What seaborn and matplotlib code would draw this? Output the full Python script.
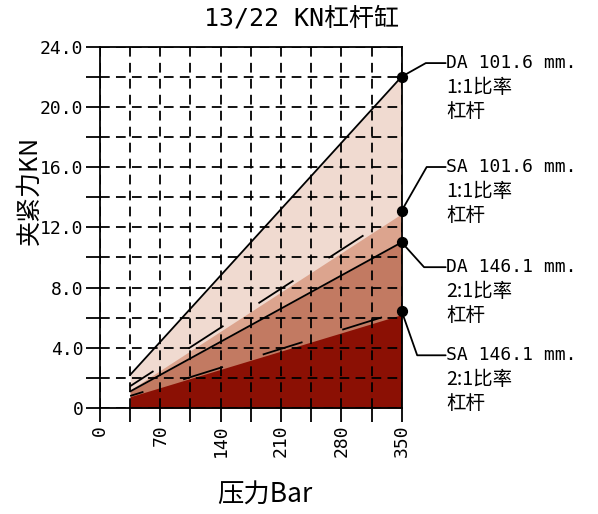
import numpy as np
import pandas as pd
import matplotlib
matplotlib.use("Agg")
import matplotlib.pyplot as plt
import seaborn as sns
from matplotlib.ticker import MultipleLocator, FixedLocator, FixedFormatter

# ── Data ───────────────────────────────────────────────────────────────────────
pressure = [35, 350]                 # Bar
da_101 = [2.2, 22.0]                 # kN
sa_101 = [1.45, 13.1]
da_146 = [1.1, 11.0]
sa_146 = [0.8, 6.43]
# shaded bands sit a little under the SA lines
band_sa_101 = [1.2, 12.9]
band_sa_146 = [0.75, 6.2]

series_names = ["DA 101.6 mm.", "SA 101.6 mm.", "DA 146.1 mm.", "SA 146.1 mm."]
ratio_labels = ["1:1比率", "1:1比率", "2:1比率", "2:1比率"]
x_ticks = [0, 70, 140, 210, 280, 350]
y_ticks = [0, 4, 8, 12, 16, 20, 24]
y_tick_labels = ["0", "4.0", "8.0", "12.0", "16.0", "20.0", "24.0"]

# ── Style / layout ─────────────────────────────────────────────────────────────
BAND_COLORS = ["#F0DAD0", "#DCA48E", "#C27A62", "#8B1004"]
LABEL_Y = [22.9, 16.0, 9.35, 3.5]
ELBOW_X = [378, 379, 376, 368]
TEXT_X = 402
LW = 1.3

sns.set_style("ticks")
plt.rcParams["font.family"] = ["DejaVu Sans Mono", "Noto Sans CJK SC"]
plt.rcParams["lines.scale_dashes"] = False
plt.rcParams["text.color"] = "black"
plt.rcParams["xtick.color"] = "black"
plt.rcParams["ytick.color"] = "black"
plt.rcParams["xtick.labelcolor"] = "black"
plt.rcParams["ytick.labelcolor"] = "black"

fig = plt.figure(figsize=(5.98, 5.14), dpi=100)
ax = fig.add_axes([0.1672, 0.2062, 0.5045, 0.7033])

# shaded bands, lightest first
for top, col in zip([da_101, band_sa_101, da_146, band_sa_146], BAND_COLORS):
    ax.fill_between(pressure, 0, top, color=col, linewidth=0, zorder=1)

# force lines
sns.lineplot(x=pressure, y=da_101, ax=ax, color="black", linewidth=LW, zorder=3)
sns.lineplot(x=pressure, y=sa_101, ax=ax, color="black", linewidth=LW,
             linestyle=(10, (30, 30)), zorder=3)
sns.lineplot(x=pressure, y=da_146, ax=ax, color="black", linewidth=LW, zorder=3)
sns.lineplot(x=pressure, y=sa_146, ax=ax, color="black", linewidth=LW,
             linestyle=(20, (30, 30)), zorder=3)

# end markers + leader lines + labels
ends = [da_101[-1], sa_101[-1], da_146[-1], sa_146[-1]]
x_end = pressure[-1]
ax.scatter([x_end] * len(ends), ends, s=50, color="black", zorder=6, clip_on=False)
for name, ratio, y_end, y_lab, ex in zip(series_names, ratio_labels, ends, LABEL_Y, ELBOW_X):
    ax.plot([x_end, ex, TEXT_X - 1], [y_end, y_lab, y_lab], color="black",
            linewidth=LW, clip_on=False, zorder=5)
    ax.text(TEXT_X, y_lab, name, ha="left", va="center", fontsize=13)
    ax.text(TEXT_X, y_lab - 1.6, ratio, ha="left", va="center", fontsize=14,
            family=["Noto Sans CJK SC"])
    ax.text(TEXT_X, y_lab - 3.2, "杠杆", ha="left", va="center", fontsize=14,
            family=["Noto Sans CJK SC"])

# axes, ticks, dashed grid
ax.set_xlim(0, 350)
ax.set_ylim(0, 24)
ax.xaxis.set_major_locator(FixedLocator(x_ticks))
ax.xaxis.set_minor_locator(MultipleLocator(35))
ax.yaxis.set_major_locator(FixedLocator(y_ticks))
ax.yaxis.set_major_formatter(FixedFormatter(y_tick_labels))
ax.yaxis.set_minor_locator(MultipleLocator(2))
ax.set_axisbelow(False)
ax.grid(which="both", color="black", linewidth=LW, linestyle=(0, (7, 4.5)))
ax.tick_params(which="both", direction="out", length=10, width=LW, color="black",
               labelsize=13, pad=2, labelcolor="black")
ax.tick_params(axis="x", labelrotation=90)
for spine in ax.spines.values():
    spine.set_visible(True)
    spine.set_linewidth(LW)
    spine.set_color("black")
    spine.set_zorder(4)

fig.text(0.505, 1 - 18 / 514, "13/22 KN杠杆缸", ha="center", va="center", fontsize=18)
fig.text(30 / 598, 1 - 190 / 514, "夹紧力KN", rotation=90, ha="center", va="center",
         fontsize=18, family=["Noto Sans CJK SC"])
fig.text(265 / 598, 1 - 495 / 514, "压力Bar", ha="center", va="center",
         fontsize=19, family=["Noto Sans CJK SC"])

fig.savefig("out.png", dpi=100)
